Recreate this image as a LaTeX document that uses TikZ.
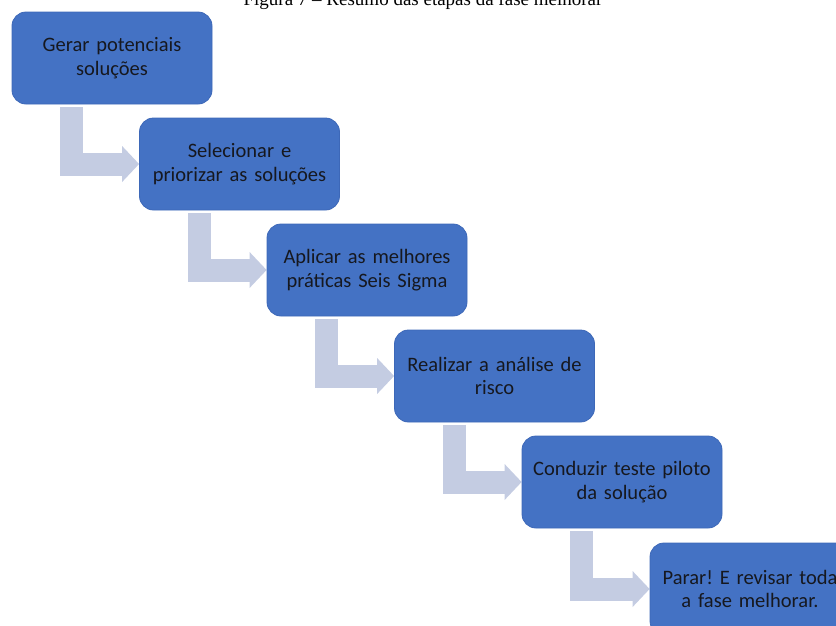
\documentclass[tikz,border=0pt]{standalone}
\usepackage{fontspec}
\setmainfont{Carlito}
\newfontfamily\captionserif{Liberation Serif}
\usetikzlibrary{arrows.meta,backgrounds}
\frenchspacing

\definecolor{stepblue}{HTML}{4472C4}
\definecolor{stepedge}{HTML}{3D68B8}
\definecolor{steptext}{HTML}{16181F}
\definecolor{flowgray}{HTML}{C4CCE2}

\tikzset{
  stepbox/.style={
    draw=stepedge, line width=0.8pt, fill=stepblue, rounded corners=14pt,
    minimum width=200pt, minimum height=92pt, inner sep=0pt,
    text width=196pt, align=center, text=steptext,
    font=\fontsize{20.5}{23.5}\selectfont
  },
  flow/.style={
    draw=flowgray, line width=23pt, line join=miter,
    -{Triangle[width=36pt,length=17pt,fill=flowgray,line width=0pt]}
  }
}

\begin{document}
\begin{tikzpicture}[x=1pt,y=-1pt]
  \useasboundingbox (0,0) rectangle (836,625);
  \clip (0,0) rectangle (836,625);

  % caption line
  \node[anchor=base, inner sep=0pt, font=\captionserif\fontsize{19}{22}\selectfont]
    (cap) at (423,5) {Figura 7 – Resumo das etapas da fase melhorar};

  % the six steps
  \node[stepbox] (b1) at (112,58)    {Gerar potenciais\\soluções};
  \node[stepbox] (b2) at (239.5,164) {Selecionar e\\priorizar as soluções};
  \node[stepbox] (b3) at (367,270)   {Aplicar as melhores\\práticas Seis Sigma};
  \node[stepbox] (b4) at (494.5,376) {Realizar a análise de\\risco};
  \node[stepbox] (b5) at (622,482)   {Conduzir teste piloto\\da solução};
  \node[stepbox] (b6) at (750,589)   {Parar! E revisar toda\\a fase melhorar.};

  % bent connectors between consecutive steps
  \begin{scope}[on background layer]
    \foreach \a/\b in {b1/b2,b2/b3,b3/b4,b4/b5,b5/b6}{
      \draw[flow] ([xshift=60pt,yshift=-3pt]\a.south west) |- (\b.west);
    }
  \end{scope}
\end{tikzpicture}
\end{document}
